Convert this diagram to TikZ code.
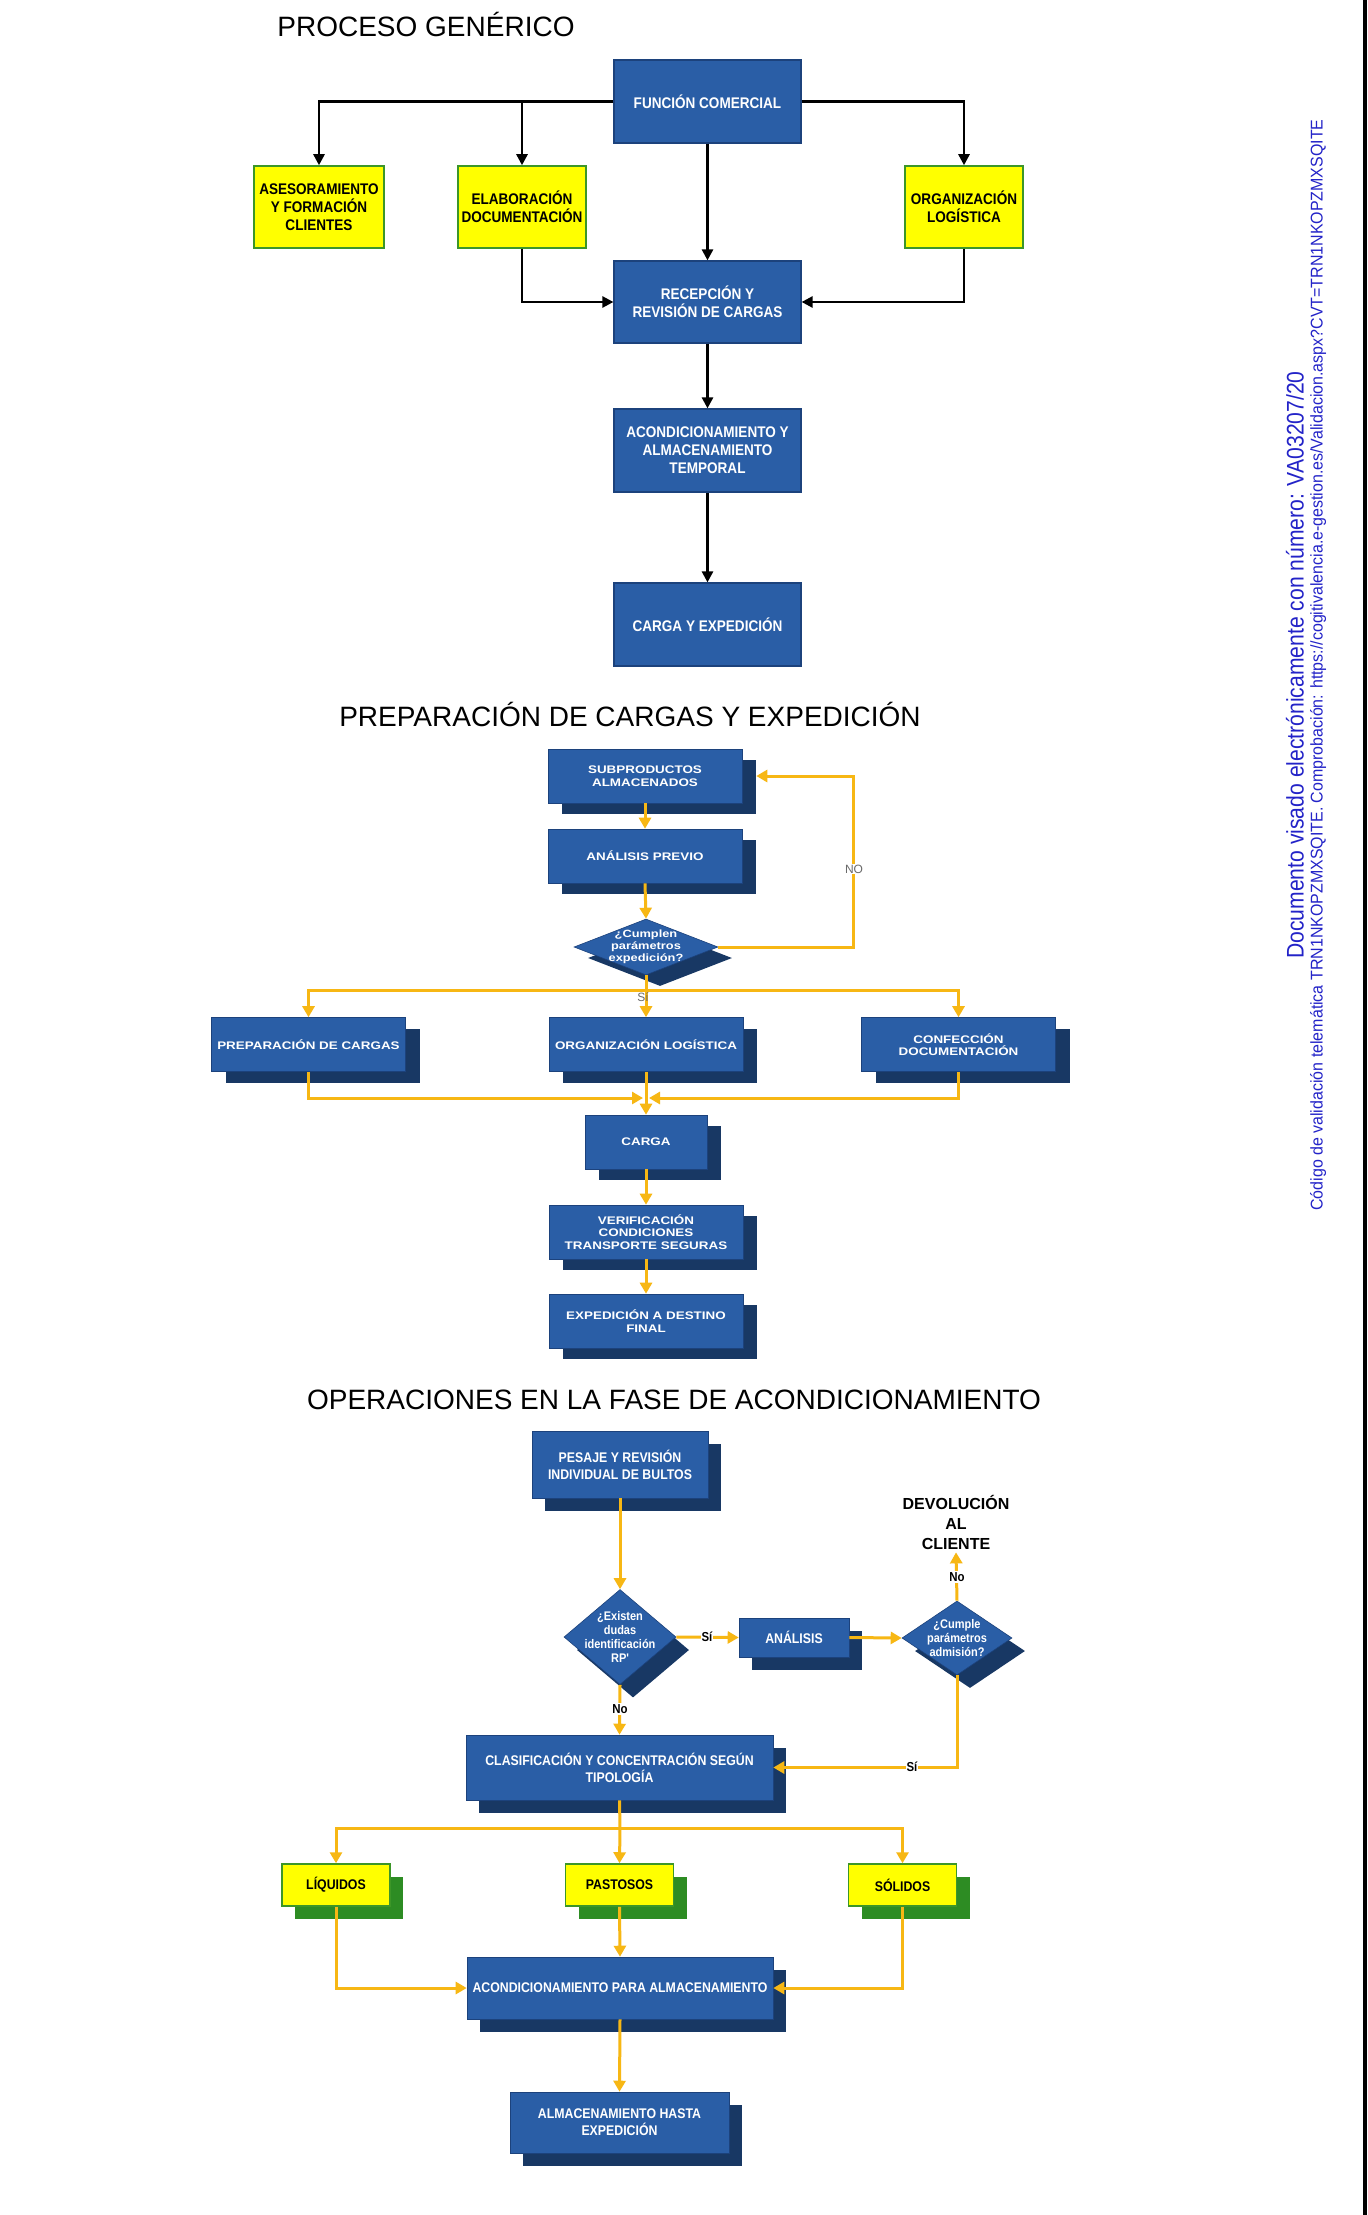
\documentclass[tikz,border=0pt]{standalone}
\usepackage{fontspec}
\setmainfont{Liberation Sans}
\newfontfamily\fA[FakeStretch=0.88]{Liberation Sans}
\newfontfamily\fB[FakeStretch=1.22]{Liberation Sans}
\newfontfamily\fVa[FakeStretch=0.88]{Liberation Sans}
\newfontfamily\fVb[FakeStretch=0.94]{Liberation Sans}
\usetikzlibrary{arrows.meta,shapes.geometric,shadows}
\definecolor{bblue}{RGB}{42,94,166}
\definecolor{bedge}{RGB}{28,66,124}
\definecolor{bshadow}{RGB}{24,56,100}
\definecolor{yfill}{RGB}{255,255,0}
\definecolor{gedge}{RGB}{60,150,40}
\definecolor{gshadow}{RGB}{45,140,35}
\definecolor{gold}{RGB}{247,183,20}
\definecolor{vtext}{RGB}{35,35,200}
\tikzset{
  title/.style={font=\fontsize{28}{34}\selectfont, inner sep=0pt},
  box1/.style={rectangle, fill=bblue, draw=bedge, line width=1.2pt, text=white, align=center, inner sep=0pt,
    font=\fA\bfseries\fontsize{15.4}{18}\selectfont, minimum width=187pt, minimum height=83pt},
  ybox1/.style={rectangle, fill=yfill, draw=gedge, line width=1.5pt, text=black, align=center, inner sep=0pt,
    font=\fA\bfseries\fontsize{15.4}{18}\selectfont, minimum height=82pt},
  box2/.style={rectangle, fill=bblue, draw=bedge, line width=0.6pt, text=white, align=center, inner sep=0pt,
    font=\fB\bfseries\fontsize{11}{12.5}\selectfont, minimum width=194pt, minimum height=54pt,
    general shadow={fill=bshadow, shadow xshift=14pt, shadow yshift=-11pt}},
  dia2/.style={diamond, fill=bblue, draw=bedge, line width=0.6pt, inner sep=0pt,
    general shadow={fill=bshadow, shadow xshift=14pt, shadow yshift=-11pt}},
  box3/.style={rectangle, fill=bblue, draw=bedge, line width=0.6pt, text=white, align=center, inner sep=0pt,
    font=\fA\bfseries\fontsize{14}{17}\selectfont,
    general shadow={fill=bshadow, shadow xshift=13pt, shadow yshift=-13pt}},
  dia3/.style={diamond, fill=bblue, draw=bedge, line width=0.6pt, inner sep=0pt,
    general shadow={fill=bshadow, shadow xshift=13pt, shadow yshift=-13pt}},
  ybox3/.style={rectangle, fill=yfill, draw=gedge, line width=1.5pt, text=black, align=center, inner sep=0pt,
    font=\fA\bfseries\fontsize{14}{17}\selectfont, minimum width=108pt, minimum height=42pt,
    general shadow={fill=gshadow, shadow xshift=13pt, shadow yshift=-13pt}},
  dlbl2/.style={text=white, align=center, font=\fB\bfseries\fontsize{10.5}{12}\selectfont, inner sep=0pt},
  dlbl3/.style={text=white, align=center, font=\fA\bfseries\fontsize{12.5}{14}\selectfont, inner sep=0pt},
  blk/.style={draw=black, line width=2.5pt, -{Triangle[width=11pt,length=11pt]}},
  ylw/.style={draw=gold, line width=3pt, -{Triangle[width=12pt,length=11pt]}},
  ylwl/.style={draw=gold, line width=3pt},
  glbl/.style={text={rgb,255:red,105;green,105;blue,105}, font=\fontsize{12}{14}\selectfont, inner sep=1pt},
  klbl/.style={text=black, fill=white, font=\fA\bfseries\fontsize{13}{15}\selectfont, inner sep=1pt},
}
\begin{document}
\begin{tikzpicture}[x=1pt,y=-1pt]
\useasboundingbox (0,0) rectangle (1367,2215);
\fill[white] (0,0) rectangle (1367,2215);
\fill[black] (1363,0) rectangle (1367,2215);

% ---------- vertical side text ----------
\node[rotate=90, text=vtext, font=\fVa\fontsize{24}{28}\selectfont, inner sep=0pt] (v1) at (1295,665)
  {Documento visado electrónicamente con número: VA03207/20};
\node[rotate=90, text=vtext, font=\fVb\fontsize{17}{20}\selectfont, inner sep=0pt] (v2) at (1318,665)
  {Código de validación telemática TRN1NKOPZMXSQITE. Comprobación: https://cogitivalencia.e-gestion.es/Validacion.aspx?CVT=TRN1NKOPZMXSQITE};

% ---------- section 1 ----------
\node[title] (t1) at (426,25) {PROCESO GENÉRICO};
\node[box1] (fc) at (707.5,101.5) {FUNCIÓN COMERCIAL};
\node[ybox1, minimum width=130pt] (ase) at (319,207) {ASESORAMIENTO\\Y FORMACIÓN\\CLIENTES};
\node[ybox1, minimum width=128pt] (ela) at (522,207) {ELABORACIÓN\\DOCUMENTACIÓN};
\node[ybox1, minimum width=118pt] (org) at (964,207) {ORGANIZACIÓN\\LOGÍSTICA};
\node[box1, minimum height=82pt] (rec) at (707.5,302) {RECEPCIÓN Y\\REVISIÓN DE CARGAS};
\node[box1] (aco) at (707.5,450.5) {ACONDICIONAMIENTO Y\\ALMACENAMIENTO\\TEMPORAL};
\node[box1] (cye) at (707.5,624.5) {CARGA Y EXPEDICIÓN};

\draw[blk] (fc.west) -| (ase.north);
\draw[blk] (fc.west -| ela.north) -- (ela.north);
\draw[blk] (fc.east) -| (org.north);
\draw[blk] (fc.south) -- (rec.north);
\draw[blk] (ela.south) |- (rec.west);
\draw[blk] (org.south) |- (rec.east);
\draw[blk] (rec.south) -- (aco.north);
\draw[blk] (aco.south) -- (cye.north);

% ---------- section 2 ----------
\node[title] (t2) at (630,714) {PREPARACIÓN DE CARGAS Y EXPEDICIÓN};
\node[box2] (sub) at (645,776) {SUBPRODUCTOS\\ALMACENADOS};
\node[box2] (ana) at (645,856) {ANÁLISIS PREVIO};
\node[dia2, minimum width=144pt, minimum height=56pt,
  label={[dlbl2]center:{¿Cumplen\\parámetros\\expedición?}}] (dec) at (646,947) {};
\node[box2] (prep) at (308.5,1044.5) {PREPARACIÓN DE CARGAS};
\node[box2] (orgl) at (646,1044.5) {ORGANIZACIÓN LOGÍSTICA};
\node[box2] (conf) at (958.5,1044.5) {CONFECCIÓN\\DOCUMENTACIÓN};
\node[box2, minimum width=122pt] (carga) at (646,1142) {CARGA};
\node[box2] (ver) at (646,1232) {VERIFICACIÓN\\CONDICIONES\\TRANSPORTE SEGURAS};
\node[box2] (exp) at (646,1321) {EXPEDICIÓN A DESTINO\\FINAL};

\coordinate (loop) at (853,947);
\coordinate (split2) at (646,990);
\coordinate (merge2) at (646,1098);

\draw[ylw] (sub.south) -- (ana.north);
\draw[ylw] (ana.south) -- (dec.north);
\draw[ylw] (dec.east) -- (loop) |- ([xshift=14pt]sub.east);
\node[glbl, fill=white] (nolbl) at (854,869) {NO};
\draw[ylwl] (dec.south) -- (split2);
\draw[ylw] (split2) -| (prep.north);
\draw[ylw] (split2) -| (conf.north);
\draw[ylw] (split2) -- (orgl.north);
\node[glbl] (silbl) at (643,997) {Sí};
\draw[ylw] (prep.south) |- ([xshift=-3pt]merge2);
\draw[ylw] (conf.south) |- ([xshift=3pt]merge2);
\draw[ylw] (orgl.south) -- (carga.north);
\draw[ylw] (carga.south) -- (ver.north);
\draw[ylw] (ver.south) -- (exp.north);

% ---------- section 3 ----------
\node[title] (t3) at (674,1400) {OPERACIONES EN LA FASE DE ACONDICIONAMIENTO};
\node[box3, minimum width=176pt, minimum height=67pt] (pes) at (620,1464.5) {PESAJE Y REVISIÓN\\INDIVIDUAL DE BULTOS};
\node[dia3, minimum width=112pt, minimum height=95pt,
  label={[dlbl3]center:{¿Existen\\dudas\\identificación\\RP'}}] (d1) at (620,1637) {};
\node[box3, minimum width=110pt, minimum height=39pt] (anl) at (794,1637.5) {ANÁLISIS};
\node[dia3, minimum width=110pt, minimum height=74pt,
  label={[dlbl3]center:{¿Cumple\\parámetros\\admisión?}}] (d2) at (957,1638) {};
\node[align=center, font=\bfseries\fontsize{16}{20}\selectfont, inner sep=0pt] (dev) at (956,1522) {DEVOLUCIÓN\\AL\\CLIENTE};
\node[box3, minimum width=307pt, minimum height=65pt] (cla) at (619.5,1767.5) {CLASIFICACIÓN Y CONCENTRACIÓN SEGÚN\\TIPOLOGÍA};
\node[ybox3] (liq) at (336,1885) {LÍQUIDOS};
\node[ybox3] (pas) at (619.5,1885) {PASTOSOS};
\node[ybox3] (sol) at (902.5,1885) {SÓLIDOS};
\node[box3, minimum width=306pt, minimum height=62pt] (acp) at (620,1988) {ACONDICIONAMIENTO PARA ALMACENAMIENTO};
\node[box3, minimum width=219pt, minimum height=61pt] (alm) at (619.5,2122.5) {ALMACENAMIENTO HASTA\\EXPEDICIÓN};

\coordinate (split3) at (620,1828);

\draw[ylw] (pes.south) -- (d1.north);
\draw[ylw] (d1.east) -- (anl.west);
\node[klbl] (si1) at (707,1637) {Sí};
\draw[ylw] (anl.east) -- (d2.west);
\draw[ylw] (d2.north) -- ([yshift=-3pt]dev.south);
\node[klbl] (no2) at (957,1577) {No};
\draw[ylw] (d1.south) -- (cla.north);
\node[klbl] (no1) at (620,1709) {No};
\draw[ylw] (d2.south) |- (cla.east);
\node[klbl] (si2) at (912,1767) {Sí};
\draw[ylwl] (cla.south) -- (split3);
\draw[ylw] (split3) -| (liq.north);
\draw[ylw] (split3) -| (sol.north);
\draw[ylw] (split3) -- (pas.north);
\draw[ylw] (liq.south) |- (acp.west);
\draw[ylw] (pas.south) -- (acp.north);
\draw[ylw] (sol.south) |- (acp.east);
\draw[ylw] (acp.south) -- (alm.north);
\end{tikzpicture}
\end{document}
